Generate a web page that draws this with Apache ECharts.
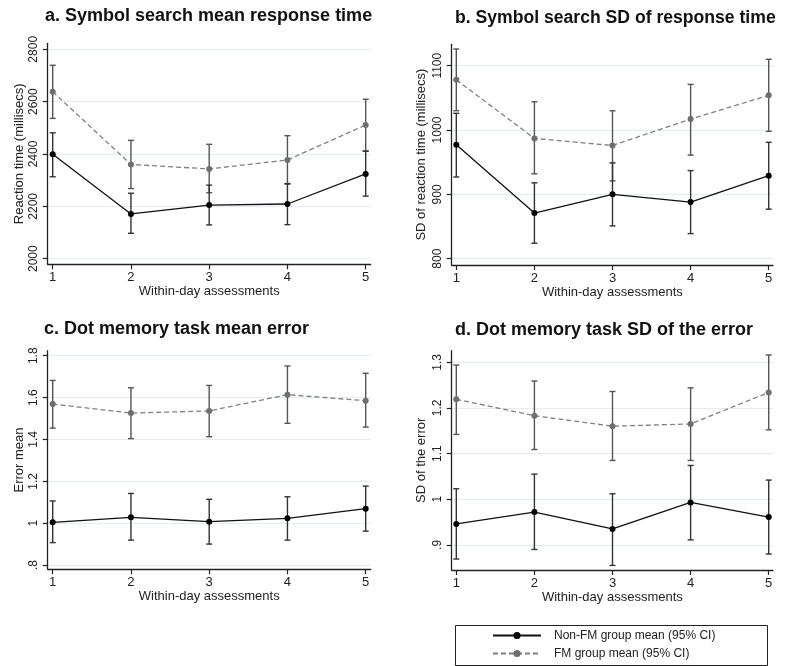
<!DOCTYPE html>
<html>
<head>
<meta charset="utf-8">
<script src="https://cdn.jsdelivr.net/npm/echarts@6/dist/echarts.min.js"></script>
<style>
html,body{margin:0;padding:0;background:#fff;}
#chart{width:787px;height:666px;}
</style>
</head>
<body>
<div id="chart"></div>
<script>
// ---------- data ----------
const assessments = [1, 2, 3, 4, 5];
const xTickLabels = ['1', '2', '3', '4', '5'];

// a. Symbol search mean response time
const aNonMean = [2399, 2171, 2205, 2209, 2324];
const aNonLo   = [2313, 2097, 2129, 2130, 2239];
const aNonHi   = [2481, 2250, 2281, 2287, 2411];
const aFmMean  = [2638, 2360, 2343, 2377, 2511];
const aFmLo    = [2536, 2268, 2252, 2285, 2411];
const aFmHi    = [2739, 2452, 2437, 2470, 2609];
const aTicks = [2000, 2200, 2400, 2600, 2800];
const aTickLabels = ['2000', '2200', '2400', '2600', '2800'];

// b. Symbol search SD of response time
const bNonMean = [977, 871, 900, 888, 929];
const bNonLo   = [927, 824, 851, 839, 877];
const bNonHi   = [1026, 918, 949, 937, 981];
const bFmMean  = [1078, 987, 976, 1017, 1054];
const bFmLo    = [1030, 932, 921, 961, 998];
const bFmHi    = [1126, 1044, 1030, 1071, 1110];
const bTicks = [800, 900, 1000, 1100];
const bTickLabels = ['800', '900', '1000', '1100'];

// c. Dot memory task mean error
const cNonMean = [1.004, 1.028, 1.007, 1.023, 1.069];
const cNonLo   = [0.907, 0.919, 0.900, 0.919, 0.962];
const cNonHi   = [1.106, 1.142, 1.114, 1.126, 1.177];
const cFmMean  = [1.569, 1.526, 1.536, 1.614, 1.585];
const cFmLo    = [1.454, 1.404, 1.413, 1.477, 1.459];
const cFmHi    = [1.682, 1.647, 1.658, 1.751, 1.716];
const cTicks = [0.8, 1.0, 1.2, 1.4, 1.6, 1.8];
const cTickLabels = ['.8', '1', '1.2', '1.4', '1.6', '1.8'];

// d. Dot memory task SD of the error
const dNonMean = [0.946, 0.972, 0.935, 0.993, 0.961];
const dNonLo   = [0.869, 0.890, 0.855, 0.911, 0.880];
const dNonHi   = [1.023, 1.055, 1.012, 1.074, 1.042];
const dFmMean  = [1.219, 1.183, 1.160, 1.165, 1.234];
const dFmLo    = [1.142, 1.109, 1.085, 1.085, 1.152];
const dFmHi    = [1.294, 1.259, 1.236, 1.244, 1.316];
const dTicks = [0.9, 1.0, 1.1, 1.2, 1.3];
const dTickLabels = ['.9', '1', '1.1', '1.2', '1.3'];

const titles = [
  'a. Symbol search mean response time',
  'b. Symbol search SD of response time',
  'c. Dot memory task mean error',
  'd. Dot memory task SD of the error'
];
const yNames = [
  'Reaction time (millisecs)',
  'SD of reaction time (millisecs)',
  'Error mean',
  'SD of the error'
];
const xName = 'Within-day assessments';
const nonName = 'Non-FM group mean (95% CI)';
const fmName = 'FM group mean (95% CI)';

// ---------- layout / styles ----------
const FONT = 'Liberation Sans, Arial, sans-serif';
const grids = [
  {left: 47.7, top: 43.3, width: 323, height: 221},
  {left: 451.7, top: 44.3, width: 321.3, height: 220.7},
  {left: 47.7, top: 350.7, width: 323, height: 218.6},
  {left: 451.7, top: 350.7, width: 321.3, height: 219.3}
];
const xRanges = [[0.936, 5.064], [0.941, 5.055], [0.936, 5.064], [0.941, 5.055]];
const yRanges = [[1978.6, 2822.9], [790.2, 1133.3], [0.7795, 1.824], [0.845, 1.3254]];
const yTickSets = [aTicks, bTicks, cTicks, dTicks];
const yLabelSets = [aTickLabels, bTickLabels, cTickLabels, dTickLabels];
const yNameGaps = [22, 24, 22, 24];
const titlePos = [
  {left: 45, top: 7.5, size: 18}, {left: 455, top: 9.3, size: 17.6},
  {left: 44, top: 320.5, size: 18}, {left: 455, top: 321, size: 18}
];
const panels = [
  [aNonMean, aNonLo, aNonHi, aFmMean, aFmLo, aFmHi],
  [bNonMean, bNonLo, bNonHi, bFmMean, bFmLo, bFmHi],
  [cNonMean, cNonLo, cNonHi, cFmMean, cFmLo, cFmHi],
  [dNonMean, dNonLo, dNonHi, dFmMean, dFmLo, dFmHi]
];

function labelFor(ticks, labels) {
  return function (v) {
    for (let i = 0; i < ticks.length; i++) {
      if (Math.abs(ticks[i] - v) < 1e-6) return labels[i];
    }
    return '';
  };
}

function errorBarRender(color) {
  return function (params, api) {
    const x = api.value(0);
    const lo = api.coord([x, api.value(1)]);
    const hi = api.coord([x, api.value(2)]);
    const hw = 3;
    const style = {stroke: color, lineWidth: 1.4, fill: null};
    return {
      type: 'group',
      children: [
        {type: 'line', shape: {x1: lo[0], y1: lo[1], x2: hi[0], y2: hi[1]}, style: style},
        {type: 'line', shape: {x1: lo[0] - hw, y1: lo[1], x2: lo[0] + hw, y2: lo[1]}, style: style},
        {type: 'line', shape: {x1: hi[0] - hw, y1: hi[1], x2: hi[0] + hw, y2: hi[1]}, style: style}
      ]
    };
  };
}

const option = {
  backgroundColor: '#ffffff',
  animation: false,
  title: titles.map((t, i) => ({
    text: t,
    left: titlePos[i].left,
    top: titlePos[i].top,
    padding: 0,
    textStyle: {fontFamily: FONT, fontSize: titlePos[i].size, fontWeight: 'bold', color: '#111'}
  })),
  legend: {
    data: [nonName, fmName],
    orient: 'vertical',
    left: 492,
    top: 629.5,
    padding: 0,
    itemWidth: 48,
    itemHeight: 9,
    itemGap: 6,
    selectedMode: false,
    textStyle: {fontFamily: FONT, fontSize: 12, color: '#222', padding: [0, 0, 0, 8]}
  },
  graphic: [{
    type: 'rect',
    left: 453, top: 623,
    shape: {width: 312, height: 40},
    style: {fill: null, stroke: '#222', lineWidth: 1},
    silent: true
  }],
  grid: grids.map(g => Object.assign({containLabel: false}, g)),
  xAxis: grids.map((g, i) => ({
    type: 'value',
    gridIndex: i,
    min: xRanges[i][0],
    max: xRanges[i][1],
    name: xName,
    nameLocation: 'middle',
    nameGap: 20,
    nameTextStyle: {fontFamily: FONT, fontSize: 13, color: '#222'},
    axisLine: {show: true, onZero: false, lineStyle: {color: '#222', width: 1.3}},
    axisTick: {show: true, length: 5, customValues: assessments, lineStyle: {color: '#222', width: 1.2}},
    axisLabel: {
      customValues: assessments,
      margin: 7,
      fontFamily: FONT, fontSize: 13, color: '#222',
      formatter: labelFor(assessments, xTickLabels)
    },
    splitLine: {show: false}
  })),
  yAxis: grids.map((g, i) => ({
    type: 'value',
    gridIndex: i,
    min: yRanges[i][0],
    max: yRanges[i][1],
    name: yNames[i],
    nameLocation: 'middle',
    nameGap: yNameGaps[i],
    nameTextStyle: {fontFamily: FONT, fontSize: 13, color: '#222'},
    axisLine: {show: true, onZero: false, lineStyle: {color: '#222', width: 1.3}},
    axisTick: {show: true, length: 5, customValues: yTickSets[i], lineStyle: {color: '#222', width: 1.2}},
    axisLabel: {
      customValues: yTickSets[i],
      rotate: 90,
      margin: 8,
      fontFamily: FONT, fontSize: 12, color: '#222',
      formatter: labelFor(yTickSets[i], yLabelSets[i])
    },
    splitLine: {show: true, lineStyle: {color: '#e3ecef', width: 1.2}}
  })),
  series: []
};

panels.forEach((p, i) => {
  const [nm, nlo, nhi, fm, flo, fhi] = p;
  option.series.push({
    type: 'custom', name: fmName + ' CI', xAxisIndex: i, yAxisIndex: i,
    renderItem: errorBarRender('#555'),
    encode: {x: 0, y: [1, 2]},
    data: assessments.map((x, k) => [x, flo[k], fhi[k]]),
    z: 2, silent: true
  });
  option.series.push({
    type: 'custom', name: nonName + ' CI', xAxisIndex: i, yAxisIndex: i,
    renderItem: errorBarRender('#333'),
    encode: {x: 0, y: [1, 2]},
    data: assessments.map((x, k) => [x, nlo[k], nhi[k]]),
    z: 2, silent: true
  });
  option.series.push({
    type: 'line', name: fmName, xAxisIndex: i, yAxisIndex: i,
    data: assessments.map((x, k) => [x, fm[k]]),
    symbol: 'circle', symbolSize: 6,
    itemStyle: {color: '#6e6e6e'},
    lineStyle: {color: '#808080', width: 1.3, type: [5, 3]},
    z: 3, silent: true
  });
  option.series.push({
    type: 'line', name: nonName, xAxisIndex: i, yAxisIndex: i,
    data: assessments.map((x, k) => [x, nm[k]]),
    symbol: 'circle', symbolSize: 6,
    itemStyle: {color: '#000'},
    lineStyle: {color: '#111', width: 1.3},
    z: 4, silent: true
  });
});

const chart = echarts.init(document.getElementById('chart'), null, {renderer: 'canvas'});
chart.setOption(option);
</script>
</body>
</html>
